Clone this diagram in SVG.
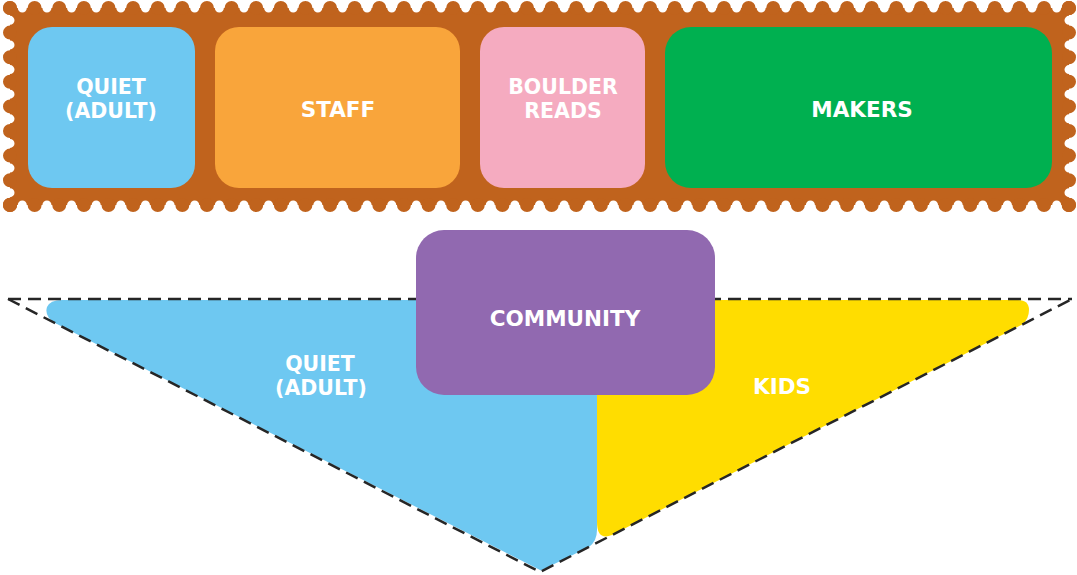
<svg xmlns="http://www.w3.org/2000/svg" width="1077" height="575" viewBox="0 0 1077 575">
<style>
.t{font-family:"DejaVu Sans","Liberation Sans",sans-serif;font-weight:bold;font-size:21.5px;fill:#fff;text-anchor:middle}
.t2{font-size:20.5px}
.tooth{fill:none;stroke:#c0631d;stroke-width:14;stroke-linecap:round;stroke-dasharray:0 24.62}
.notch{fill:none;stroke:#fff;stroke-width:9;stroke-linecap:round;stroke-dasharray:0 24.628;stroke-dashoffset:-12.314}
.toothv{fill:none;stroke:#c0631d;stroke-width:14;stroke-linecap:round;stroke-dasharray:0 24.6}
.notchv{fill:none;stroke:#fff;stroke-width:9;stroke-linecap:round;stroke-dasharray:0 24.625;stroke-dashoffset:-12.3125}
.dash{fill:none;stroke:#262626;stroke-width:2.5;stroke-dasharray:13 7}
</style>
<rect width="1077" height="575" fill="#fff"/>
<g id="stamp">
<rect x="10" y="8" width="1059" height="197" fill="#c0631d"/>
<path class="tooth" d="M10,8 H1069.5"/>
<path class="tooth" d="M10,205 H1069.5"/>
<path class="toothv" d="M10,8 V205.5"/>
<path class="toothv" d="M1069,8 V205.5"/>
<circle cx="1069" cy="205" r="7" fill="#c0631d"/>
<circle cx="10" cy="205" r="7" fill="#c0631d"/>
<circle cx="1069" cy="8" r="7" fill="#c0631d"/>
<path class="notch" d="M10,8 H1069"/>
<path class="notch" d="M10,205 H1069"/>
<path class="notchv" d="M10,8 V205"/>
<path class="notchv" d="M1069,8 V205"/>
</g>
<g id="quiet-top">
<rect x="28" y="27" width="167" height="161" rx="24" fill="#6ec8f1"/>
<text class="t t2" x="111" y="94">QUIET</text>
<text class="t t2" x="111" y="118">(ADULT)</text>
</g>
<g id="staff">
<rect x="215" y="27" width="245" height="161" rx="24" fill="#f9a53b"/>
<text class="t" x="338" y="117">STAFF</text>
</g>
<g id="boulder-reads">
<rect x="480" y="27" width="165" height="161" rx="24" fill="#f5abc0"/>
<text class="t t2" x="563" y="94">BOULDER</text>
<text class="t t2" x="563" y="118">READS</text>
</g>
<g id="makers">
<rect x="665" y="27" width="387" height="161" rx="26" fill="#00b050"/>
<text class="t" x="862" y="117">MAKERS</text>
</g>
<g id="quiet-bottom">
<path d="M62,300 L597,300 L597,530 Q597,541 589,546.9 L541,570.5 L56,323.6 Q44,317 47,307 Q50,300 62,300 Z" fill="#6ec8f1"/>
<text class="t t2" x="320" y="371">QUIET</text>
<text class="t t2" x="321" y="395">(ADULT)</text>
</g>
<g id="kids">
<path d="M597,300 L1018,300 Q1029,300 1029,310 Q1029,319 1022,324.6 L612,535 Q597,541 597,522 Z" fill="#ffdd00"/>
<text class="t" x="782" y="394">KIDS</text>
</g>
<g id="connectors">
<path class="dash" d="M8,299 L1072,299"/>
<path class="dash" d="M8,299 L540,572 L1072,299"/>
</g>
<g id="community">
<rect x="416" y="230" width="299" height="165" rx="28" fill="#9169b0"/>
<text class="t" x="565" y="326">COMMUNITY</text>
</g>
</svg>
